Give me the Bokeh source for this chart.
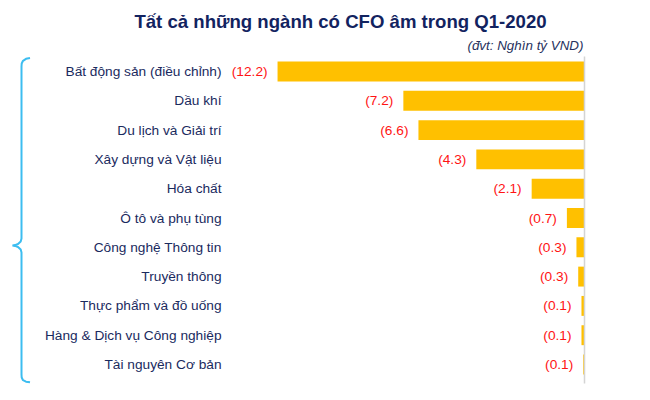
from bokeh.plotting import figure
from bokeh.models import Range1d, ColumnDataSource
from bokeh.core.properties import value
from bokeh.embed import file_html
from bokeh.resources import INLINE

# ---- data ----
sectors = [
    "Bất động sản (điều chỉnh)",
    "Dầu khí",
    "Du lịch và Giải trí",
    "Xây dựng và Vật liệu",
    "Hóa chất",
    "Ô tô và phụ tùng",
    "Công nghệ Thông tin",
    "Truyền thông",
    "Thực phẩm và đồ uống",
    "Hàng & Dịch vụ Công nghiệp",
    "Tài nguyên Cơ bản",
]
cfo = [-12.2, -7.2, -6.6, -4.3, -2.1, -0.7, -0.32, -0.25, -0.12, -0.12, -0.05]
cfo_labels = ["(12.2)", "(7.2)", "(6.6)", "(4.3)", "(2.1)", "(0.7)",
              "(0.3)", "(0.3)", "(0.1)", "(0.1)", "(0.1)"]
title_text = "Tất cả những ngành có CFO âm trong Q1-2020"
unit_text = "(đvt: Nghìn tỷ VND)"

# ---- layout (pixel geometry -> data space) ----
W, H = 650, 400
PX_PER_UNIT = 25.16
X0_PX = 584
ROW0_PX = 71
ROW_PX = 29.3

def dx(px):
    return (px - X0_PX) / PX_PER_UNIT

def dy(py):
    return (py - ROW0_PX) / ROW_PX

FONT = value("Liberation Sans")
NAVY = "#122360"

p = figure(width=W, height=H, output_backend="svg", toolbar_location=None,
           x_range=Range1d(dx(0), dx(W)), y_range=Range1d(dy(H), dy(0)),
           min_border=0, outline_line_color=None)
p.axis.visible = False
p.grid.visible = False
p.background_fill_color = "white"
p.border_fill_color = "white"

rows = list(range(len(sectors)))
src = ColumnDataSource(dict(y=rows, v=cfo, zero=[0] * len(cfo), name=sectors, lab=cfo_labels))

p.hbar(y="y", left="v", right="zero", height=0.68, source=src,
       fill_color="#ffc000", line_color=None)

# zero line
p.segment(x0=[0], y0=[dy(56)], x1=[0], y1=[dy(383)], line_color="#d4d4d4", line_width=1.5)

# value labels
p.text(x="v", y="y", text="lab", source=src, x_offset=-10,
       text_align="right", text_baseline="middle", text_font=FONT,
       text_font_size="13.7px", text_color="#ff1414")

# category labels
p.text(x=[dx(221)] * len(sectors), y=rows, text=sectors,
       text_align="right", text_baseline="middle", text_font=FONT,
       text_font_size="13.7px", text_color="#1a2a5e")

# title and unit
p.text(x=[dx(340)], y=[dy(21)], text=[title_text], text_align="center",
       text_baseline="middle", text_font=FONT, text_font_size="18.6px",
       text_font_style="bold", text_color=NAVY)
p.text(x=[dx(583)], y=[dy(45)], text=[unit_text], text_align="right",
       text_baseline="middle", text_font=FONT, text_font_size="13.4px",
       text_font_style="italic", text_color="#27325e")

# brace
bx = [29.5, 25.5, 22.5, 21.2, 21, 21, 20.2, 17.5, 14.5, 12, 14.5, 17.5, 20.2, 21, 21, 21.2, 22.5, 25.5, 29.5]
by = [57.5, 58.3, 60.3, 63, 66, 238, 241, 243.5, 244.6, 245, 245.4, 246.5, 249, 252, 374, 377, 379.7, 381.2, 381.8]
p.line(x=[dx(v) for v in bx], y=[dy(v) for v in by], line_color="#3cbdf0", line_width=2)

open("out.html", "w").write(file_html(p, INLINE))
